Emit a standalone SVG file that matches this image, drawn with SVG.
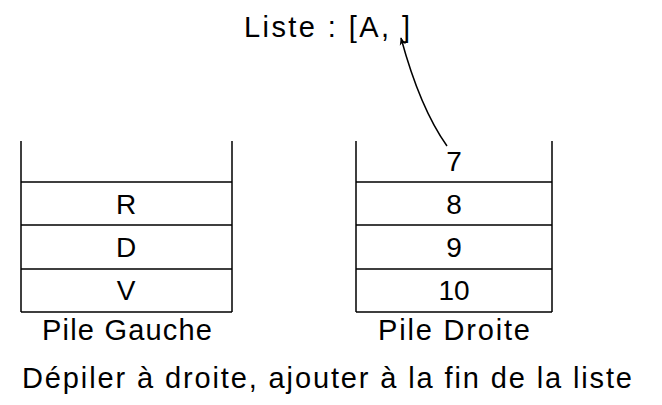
<svg xmlns="http://www.w3.org/2000/svg" width="662" height="405" viewBox="0 0 662 405">
<style>
text{font-family:"Liberation Sans",Arial,sans-serif;fill:#000;text-anchor:middle}
.big{font-size:29px}
.cell{font-size:28px}
.ln{stroke:#000;stroke-width:1.5;fill:none}
</style>
<defs>
<marker id="ah" viewBox="0 0 10 10" refX="9" refY="5" markerWidth="8" markerHeight="8" orient="auto" markerUnits="userSpaceOnUse">
<path d="M0,1 L10,5 L0,9 L3,5 Z" fill="#000"/>
</marker>
</defs>
<rect width="662" height="405" fill="#fff"/>
<g id="liste"><text class="big" x="327" y="37" textLength="166" lengthAdjust="spacing">Liste : [A, ]</text></g>
<g id="pile-gauche">
<path class="ln" d="M21,141 V312 M232,141 V312 M21,182 H232 M21,225 H232 M21,269 H232 M21,312 H232"/>
<text class="cell" x="126" y="214">R</text>
<text class="cell" x="126" y="257">D</text>
<text class="cell" x="126" y="300">V</text>
<text class="big" x="127" y="340" textLength="170" lengthAdjust="spacing">Pile Gauche</text>
</g>
<g id="pile-droite">
<path class="ln" d="M356,141 V312 M552,141 V312 M356,182 H552 M356,225 H552 M356,269 H552 M356,312 H552"/>
<text class="cell" x="454" y="171">7</text>
<text class="cell" x="454" y="214">8</text>
<text class="cell" x="454" y="257">9</text>
<text class="cell" x="454" y="300">10</text>
<text class="big" x="454" y="340" textLength="152" lengthAdjust="spacing">Pile Droite</text>
</g>
<g id="legende"><text class="big" x="327" y="388" textLength="610" lengthAdjust="spacing">Dépiler à droite, ajouter à la fin de la liste</text></g>
<g id="connectors">
<path class="ln" stroke-width="1.3" d="M447,146 Q420,108 401,38" marker-end="url(#ah)"/>
</g>
</svg>
